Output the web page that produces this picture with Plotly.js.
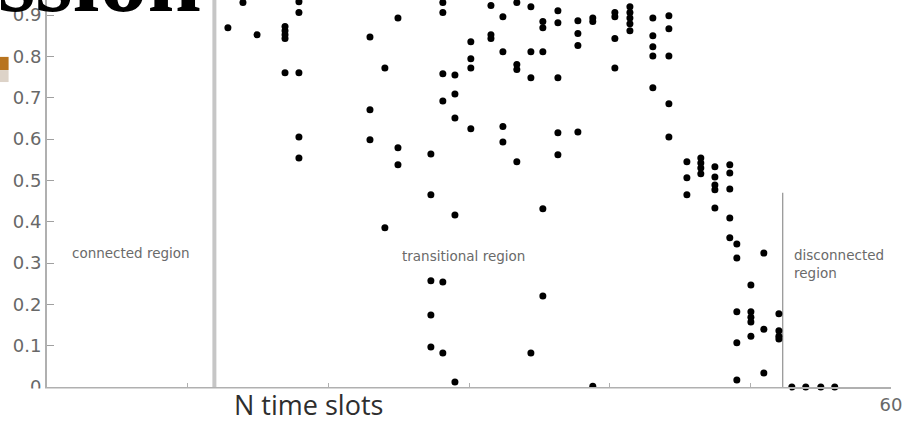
<!DOCTYPE html>
<html>
<head>
<meta charset="utf-8">
<script src="https://cdn.plot.ly/plotly-3.0.1.min.js"></script>
<style>
  html, body { margin: 0; padding: 0; background: #ffffff; }
  #chart { width: 904px; height: 421px; }
</style>
</head>
<body>
<div id="chart"></div>
<script>
// Number of time slots (x) for each observed point
const nSlots = [
  12.86, 13.0, 13.93, 14.93,
  16.92, 16.92, 16.92, 16.92, 16.92, 16.92,
  17.91, 17.91, 17.91, 17.91, 17.91,
  22.96, 22.96, 22.96,
  24.02, 24.02, 24.16,
  24.95, 24.95, 24.95, 24.95,
  27.2,
  27.29, 27.29, 27.29, 27.29, 27.29,
  28.14, 28.14, 28.14, 28.14, 28.14, 28.14,
  29.0, 29.0, 29.0, 29.0, 29.0,
  30.13, 30.13, 30.13, 30.13,
  31.56, 31.56, 31.56,
  32.41, 32.41, 32.41, 32.41,
  33.4, 33.4, 33.4, 33.4,
  34.4, 34.4, 34.4, 34.4,
  35.25, 35.25, 35.25, 35.25, 35.25, 35.25,
  36.32, 36.32, 36.32, 36.32, 36.32,
  37.74, 37.74, 37.74, 37.74,
  38.8, 38.8, 38.8,
  40.37, 40.37, 40.37, 40.37,
  41.44, 41.44, 41.44, 41.44, 41.44,
  43.07, 43.07, 43.07, 43.07, 43.07,
  44.21, 44.21, 44.21, 44.21, 44.21,
  45.49, 45.49, 45.49,
  46.48, 46.48, 46.48, 46.48,
  47.48, 47.48, 47.48, 47.48, 47.48,
  48.54, 48.54, 48.54, 48.54, 48.54,
  49.04, 49.04, 49.04, 49.04, 49.04,
  50.04, 50.04, 50.04, 50.04, 50.04,
  50.96, 50.96, 50.96,
  52.03, 52.03, 52.03, 52.03,
  52.95, 53.94, 55.01, 56.0
];
// Measured value (y) for each point
const probability = [
  0.869, 0.94, 0.930, 0.852,
  0.872, 0.862, 0.852, 0.843, 0.760, 0.94,
  0.932, 0.906, 0.760, 0.605, 0.554,
  0.847, 0.671, 0.598,
  0.772, 0.385, 0.94,
  0.893, 0.579, 0.538, 0.94,
  0.94,
  0.564, 0.465, 0.257, 0.174, 0.097,
  0.930, 0.906, 0.758, 0.692, 0.254, 0.082,
  0.755, 0.709, 0.651, 0.416, 0.012,
  0.835, 0.794, 0.772, 0.625,
  0.923, 0.852, 0.843,
  0.896, 0.811, 0.630, 0.593,
  0.930, 0.780, 0.768, 0.545,
  0.920, 0.811, 0.748, 0.082,
  0.94, 0.884, 0.869, 0.811, 0.431, 0.220,
  0.910, 0.881, 0.748, 0.615, 0.562,
  0.886, 0.855, 0.826, 0.617,
  0.893, 0.884, 0.002,
  0.906, 0.896, 0.843, 0.772,
  0.920, 0.906, 0.893, 0.879, 0.862,
  0.893, 0.850, 0.823, 0.801, 0.724,
  0.898, 0.867, 0.801, 0.685, 0.605,
  0.545, 0.506, 0.465,
  0.554, 0.542, 0.530, 0.516,
  0.533, 0.508, 0.489, 0.477, 0.433,
  0.538, 0.518, 0.479, 0.409, 0.361,
  0.346, 0.312, 0.182, 0.107, 0.017,
  0.247, 0.182, 0.169, 0.157, 0.123,
  0.324, 0.140, 0.034,
  0.177, 0.136, 0.123, 0.116,
  0, 0, 0, 0
];
const yTickVals = [0, 0.1, 0.2, 0.3, 0.4, 0.5, 0.6, 0.7, 0.8, 0.9];
const yTickText = ['0', '0.1', '0.2', '0.3', '0.4', '0.5', '0.6', '0.7', '0.8', '0.9'];
const xTickVals = [10, 20, 30, 40, 50, 60];
const xTickText = ['', '', '', '', '', '60'];
const connectedBoundary = 11.9;
const disconnectedBoundary = 52.3;
const regionLabels = [
  {text: 'connected region', x: 5.97, y: 0.324, anchor: 'center'},
  {text: 'transitional region', x: 29.64, y: 0.317, anchor: 'center'},
  {text: 'disconnected<br>region', x: 52.95, y: 0.298, anchor: 'left'}
];

const trace = {
  type: 'scatter',
  mode: 'markers',
  x: nSlots,
  y: probability,
  marker: {color: '#000000', size: 7},
  cliponaxis: false,
  hoverinfo: 'x+y'
};

const annotations = regionLabels.map(r => ({
  text: r.text, x: r.x, y: r.y, xref: 'x', yref: 'y',
  xanchor: r.anchor, yanchor: 'middle', align: 'left', showarrow: false,
  font: {family: 'DejaVu Sans, Arial, sans-serif', size: 13.5, color: '#6a6a6a'}
}));
annotations.push({
  text: 'N time slots', xref: 'paper', yref: 'paper', x: 0.3104, y: -0.044,
  xanchor: 'center', yanchor: 'middle', showarrow: false,
  font: {family: 'Open Sans, Arial, sans-serif', size: 27, color: '#2e2e2e'}
});
annotations.push({
  text: 'ssion', xref: 'paper', yref: 'paper', x: -0.0557, y: 1,
  xanchor: 'left', yanchor: 'middle', xshift: -4, yshift: 22, showarrow: false,
  font: {family: 'Liberation Serif, serif', size: 96, color: '#000000', weight: 'bold'}
});

const layout = {
  width: 904, height: 421,
  margin: {l: 47, r: 13, t: 0, b: 34, pad: 0},
  paper_bgcolor: '#ffffff', plot_bgcolor: '#ffffff',
  showlegend: false,
  xaxis: {
    range: [0, 60], showgrid: false, zeroline: false,
    showline: true, linecolor: '#b0b0b0', linewidth: 2,
    ticks: 'inside', ticklen: 4, tickcolor: '#b0b0b0',
    tickmode: 'array', tickvals: xTickVals, ticktext: xTickText,
    tickfont: {family: 'DejaVu Sans, Arial, sans-serif', size: 18, color: '#686868'}
  },
  yaxis: {
    range: [0, 0.9363], showgrid: false, zeroline: false,
    showline: true, linecolor: '#b0b0b0', linewidth: 2,
    ticks: 'inside', ticklen: 7, tickcolor: '#a0a0a0',
    tickmode: 'array', tickvals: yTickVals, ticktext: yTickText,
    tickfont: {family: 'DejaVu Sans, Arial, sans-serif', size: 18, color: '#686868'}
  },
  shapes: [
    {type: 'line', xref: 'x', yref: 'paper', x0: connectedBoundary, x1: connectedBoundary,
     y0: 0, y1: 1, line: {color: '#c6c6c6', width: 4}, layer: 'below'},
    {type: 'line', xref: 'x', yref: 'y', x0: disconnectedBoundary, x1: disconnectedBoundary,
     y0: 0, y1: 0.47, line: {color: '#9a9a9a', width: 1.3}, layer: 'below'},
    {type: 'rect', xref: 'paper', yref: 'paper', x0: -0.07, x1: 0.88, y0: -0.1, y1: -0.0039,
     fillcolor: '#ffffff', line: {width: 0}, layer: 'above'},
    {type: 'rect', xref: 'paper', yref: 'paper', x0: -0.0557, x1: -0.0455, y0: 0.819, y1: 0.853,
     fillcolor: '#b8741f', line: {width: 0}, layer: 'above'},
    {type: 'rect', xref: 'paper', yref: 'paper', x0: -0.0557, x1: -0.0455, y0: 0.788, y1: 0.819,
     fillcolor: '#ddd3c8', line: {width: 0}, layer: 'above'}
  ],
  annotations: annotations
};

Plotly.newPlot('chart', [trace], layout, {displayModeBar: false, staticPlot: true});
</script>
</body>
</html>
